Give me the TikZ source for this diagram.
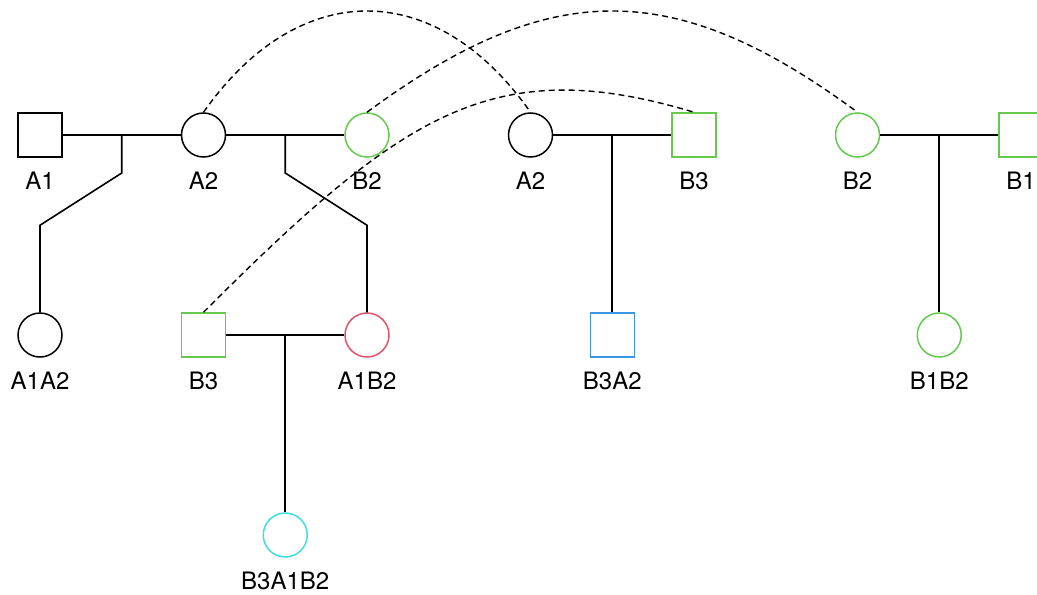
\documentclass[tikz,border=0pt]{standalone}
\usepackage{fontspec}
\setmainfont{TeX Gyre Heros}
\usetikzlibrary{calc}
\definecolor{kingreen}{HTML}{64C94D}
\definecolor{kinred}{HTML}{DF5469}
\definecolor{kinblue}{HTML}{3A95E6}
\definecolor{kincyan}{HTML}{3FDDE3}

\begin{document}
\begin{tikzpicture}[
  x=81.75pt, y=100pt,
  male/.style={draw, rectangle, minimum size=22pt, inner sep=0pt, line width=0.75pt},
  female/.style={draw, circle, minimum size=22pt, inner sep=0pt, line width=0.75pt},
  kin/.style={line width=0.8pt},
  twin/.style={dashed, dash pattern=on 3pt off 2pt, line width=0.7pt},
  every label/.style={font=\fontsize{12}{14}\selectfont, inner sep=0pt},
  label distance=6.8pt
]
\useasboundingbox (-20pt,67.5pt) rectangle (498.5pt,-229.5pt);

% ---- top row: the couples ----
\node[male]                (a1)  at (0,0) [label=below:A1] {};
\node[female]              (a2)  at (1,0) [label=below:A2] {};
\node[female, kingreen]    (b2)  at (2,0) [label=below:B2] {};
\node[female]              (a2r) at (3,0) [label=below:A2] {};
\node[male, kingreen]      (b3r) at (4,0) [label=below:B3] {};
\node[female, kingreen]    (b2r) at (5,0) [label=below:B2] {};
\node[male, kingreen]      (b1)  at (6,0) [label=below:B1] {};

% ---- second row ----
\node[female]              (a1a2) at (0,-1)   [label=below:A1A2] {};
\node[male, kingreen]      (b3)   at (1,-1)   [label=below:B3] {};
\node[female, kinred]      (a1b2) at (2,-1)   [label=below:A1B2] {};
\node[male, kinblue]       (b3a2) at (3.5,-1) [label=below:B3A2] {};
\node[female, kingreen]    (b1b2) at (5.5,-1) [label=below:B1B2] {};

% ---- third row ----
\node[female, kincyan]     (b3a1b2) at (1.5,-2) [label=below:B3A1B2] {};

% marriage lines, with the drop point half way along each
\draw[kin] (a1) -- (a2);
\draw[kin] (a2) -- (b2);
\draw[kin] (b3) -- (a1b2);
\draw[kin] (a2r) -- (b3r);
\draw[kin] (b2r) -- (b1);
\coordinate (c1) at ($(a1)!0.5!(a2)$);
\coordinate (c2) at ($(a2)!0.5!(b2)$);
\coordinate (c3) at ($(b3)!0.5!(a1b2)$);
\coordinate (c4) at ($(a2r)!0.5!(b3r)$);
\coordinate (c5) at ($(b2r)!0.5!(b1)$);

% children -- the first two are off to the side, so they get a dog-leg
\draw[kin] (c1) -- ++(0,-19pt) -- ($(a1a2.north)+(0,43.5pt)$) -- (a1a2.north);
\draw[kin] (c2) -- ++(0,-19pt) -- ($(a1b2.north)+(0,43.5pt)$) -- (a1b2.north);
\draw[kin] (c3) -- (b3a1b2);
\draw[kin] (c4) -- (b3a2);
\draw[kin] (c5) -- (b1b2);

% same person drawn twice: dashed arcs join the copies
\draw[twin] (a2.north) .. controls +(47.5pt,67.5pt) and +(-47.5pt,67.5pt) .. (a2r.north);
\draw[twin] (b2.north) .. controls +(91.5pt,67.5pt) and +(-91.5pt,67.5pt) .. (b2r.north);
\draw[twin] (b3.north) .. controls +(100pt,100pt) and +(-100pt,30pt) .. (b3r.north);
\end{tikzpicture}
\end{document}
